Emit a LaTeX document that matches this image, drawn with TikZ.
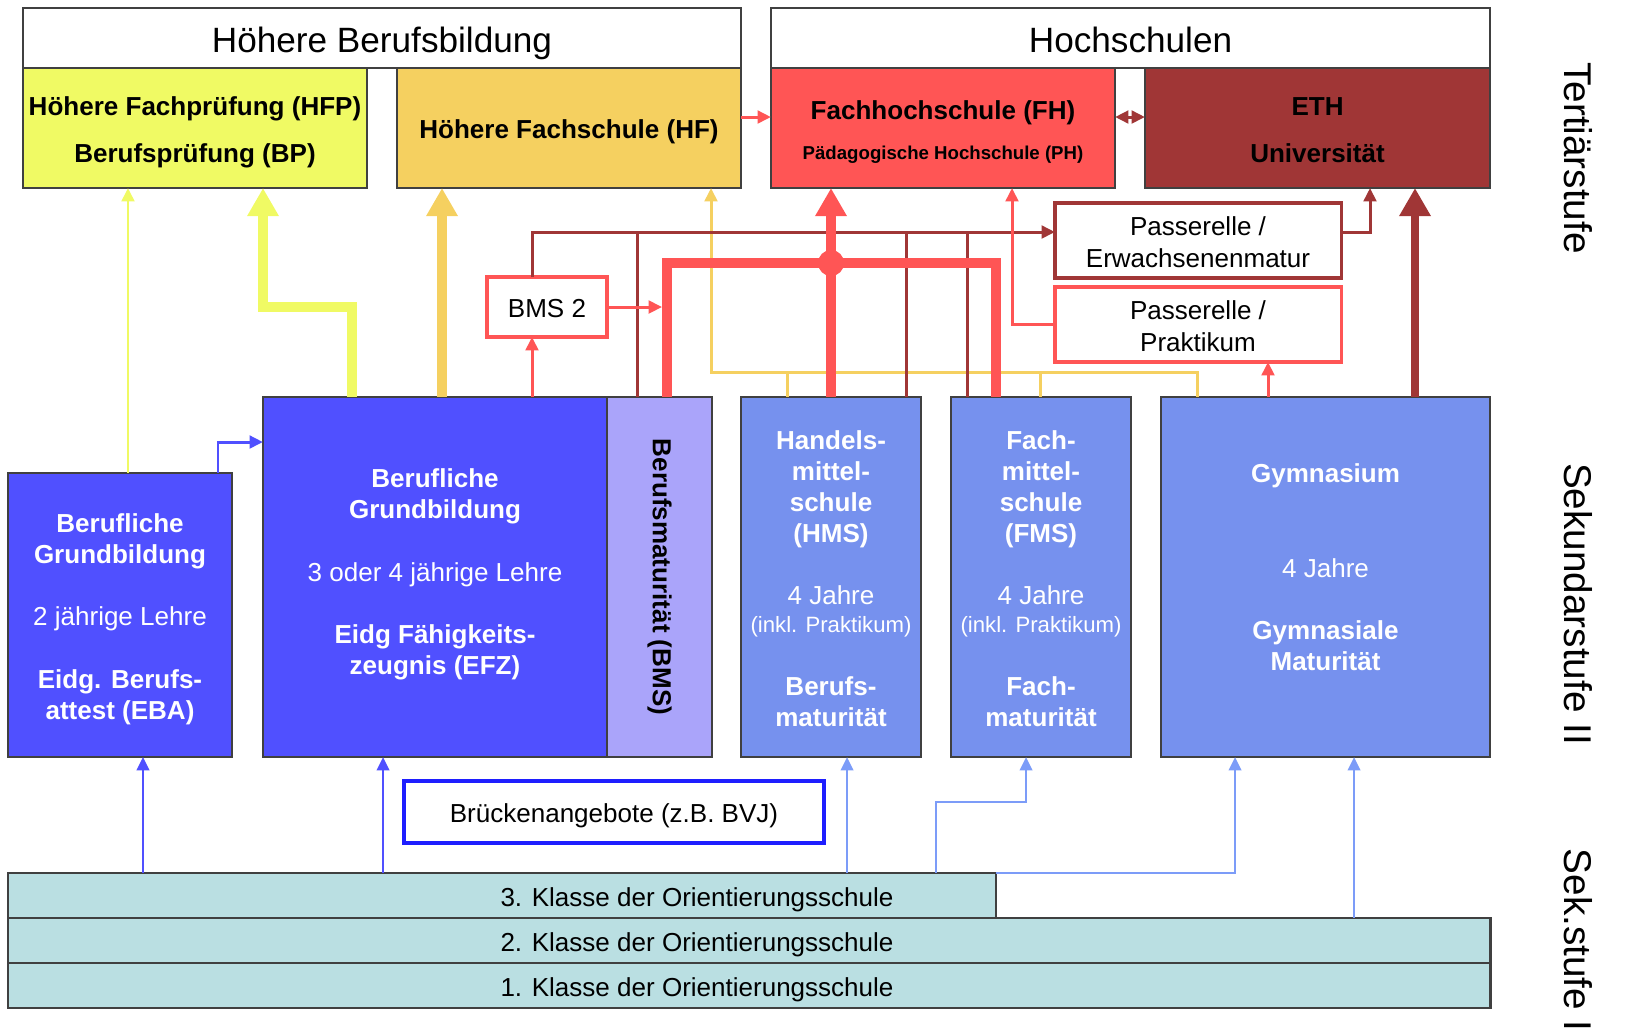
\documentclass[tikz,border=0pt]{standalone}
\usepackage{fontspec}
\setmainfont{Liberation Sans}
\usetikzlibrary{arrows.meta}
\tikzset{>={Triangle[length=3.8pt,width=3.6pt]}}
\definecolor{hfpyellow}{HTML}{F0FA64}
\definecolor{hfyellow}{HTML}{F5D060}
\definecolor{fhred}{HTML}{FF5555}
\definecolor{ethred}{HTML}{A03636}
\definecolor{efzblue}{HTML}{5050FF}
\definecolor{bmslilac}{HTML}{AAA4FA}
\definecolor{mittelblue}{HTML}{7691EE}
\definecolor{orient}{HTML}{BADFE2}
\definecolor{arrowblue}{HTML}{7C9CF8}
\definecolor{bridgeblue}{HTML}{1E1EFF}
\colorlet{boxframe}{black!75}
% line box of the text, as in the slide
\newcommand\lntop{\rule{0pt}{1.05em}}
\newcommand\lnbot{\rule[-0.212em]{0pt}{0.212em}}

\tikzset{
  box/.style={draw=boxframe, line width=0.6pt, inner sep=0pt, outer sep=0pt,
    align=center, font=\fontsize{7.4}{8.8}\selectfont\bfseries},
  headbox/.style={box, fill=white, minimum width=7.18cm, minimum height=0.6cm,
    font=\fontsize{10}{12}\selectfont},
  topbox/.style={box, minimum width=3.44cm, minimum height=1.2cm},
  passbox/.style={box, fill=white, line width=0.9pt, minimum width=2.86cm,
    minimum height=0.75cm, font=\fontsize{7.4}{9}\selectfont},
  secbox/.style={box, text=white, minimum height=3.6cm},
  klasse/.style={box, fill=orient, minimum height=0.45cm},
  plain/.style={inner sep=0pt, font=\fontsize{7.4}{8.8}\selectfont},
  stufe/.style={inner sep=0pt, rotate=-90, font=\fontsize{11}{13}\selectfont},
  thinline/.style={line width=0.85pt},
  fatline/.style={line width=2.6pt},
  bigtip/.style={-{Triangle[length=8pt,width=8.5pt]}},
}

\begin{document}
\begin{tikzpicture}[x=0.01cm, y=-0.01cm]
  \useasboundingbox (0,0) rectangle (1625,1032);
  % tertiary level
  \node[headbox] (hbb) at (382,38) {\lntop Höhere Berufsbildung\lnbot};
  \node[headbox, minimum width=7.19cm] (hs) at (1130.5,38) {\lntop Hochschulen\lnbot};
  \node[topbox, fill=hfpyellow] (hfp) at (195,128)
    {\lntop Höhere Fachprüfung (HFP)\\[4.6pt]Berufsprüfung (BP)\lnbot};
  \node[topbox, fill=hfyellow] (hf) at (569,128) {\lntop Höhere Fachschule (HF)\lnbot};
  \node[topbox, fill=fhred] (fh) at (943,128)
    {\lntop Fachhochschule (FH)\\[2.6pt]{\fontsize{5.3}{6}\selectfont Pädagogische Hochschule (PH)\lnbot}};
  \node[topbox, fill=ethred, minimum width=3.45cm] (eth) at (1317.5,128)
    {\lntop ETH\\[4.6pt]Universität\lnbot};
  \node[passbox, draw=ethred] (perw) at (1198,240.5) {\lntop Passerelle /\\Erwachsenenmatur\lnbot};
  \node[passbox, draw=fhred] (pprak) at (1198,324.5) {\lntop Passerelle /\\Praktikum\lnbot};
  \node[passbox, draw=fhred, minimum width=1.2cm, minimum height=0.6cm] (bms2) at (547,307)
    {\lntop BMS 2\lnbot};
  \coordinate (bmsjoin) at (662,307);

  % secondary level II
  \node[secbox, fill=efzblue, minimum width=2.24cm, minimum height=2.84cm] (eba) at (120,615)
    {\lntop Berufliche\\Grundbildung\\[9pt]{\mdseries 2 jährige Lehre}\\[9pt]Eidg. Berufs-\\attest (EBA)\lnbot};
  \node[secbox, fill=efzblue, minimum width=3.44cm] (efz) at (435,577)
    {\lntop Berufliche\\Grundbildung\\[9pt]{\mdseries 3 oder 4 jährige Lehre}\\[9pt]Eidg Fähigkeits-\\zeugnis (EFZ)\\[-3.4pt]\mbox{}};
  \node[secbox, fill=bmslilac, minimum width=1.05cm] (bms) at (659.5,577) {};
  \node[inner sep=0pt, rotate=-90, font=\fontsize{7.4}{8.8}\selectfont\bfseries] (bmstext) at (bms)
    {Berufsmaturität (BMS)};
  \node[secbox, fill=mittelblue, minimum width=1.8cm] (hms) at (831,577)
    {\lntop Handels-\\mittel-\\schule\\(HMS)\\[9pt]{\mdseries 4 Jahre}\\[-0.8pt]{\mdseries\fontsize{6.3}{7}\selectfont (inkl. Praktikum)}\\[9pt]Berufs-\\maturität\lnbot};
  \node[secbox, fill=mittelblue, minimum width=1.8cm] (fms) at (1041,577)
    {\lntop Fach-\\mittel-\\schule\\(FMS)\\[9pt]{\mdseries 4 Jahre}\\[-0.8pt]{\mdseries\fontsize{6.3}{7}\selectfont (inkl. Praktikum)}\\[9pt]Fach-\\maturität\lnbot};
  \node[secbox, fill=mittelblue, minimum width=3.29cm] (gym) at (1325.5,577)
    {\lntop Gymnasium\\[18pt]{\mdseries 4 Jahre}\\[9pt]Gymnasiale\\Maturität\\[-0.9pt]\mbox{}};
  \node[box, draw=bridgeblue, line width=1pt, fill=white, minimum width=4.2cm,
    minimum height=0.62cm, font=\fontsize{7.4}{8.8}\selectfont] (bridge) at (614,812)
    {\lntop Brückenangebote (z.B. BVJ)\lnbot};

  % secondary level I
  \node[klasse, minimum width=9.88cm] (kl3) at (502,895.5) {};
  \node[klasse, minimum width=14.82cm] (kl2) at (749,940.5) {};
  \node[klasse, minimum width=14.82cm] (kl1) at (749,985.5) {};
  \node[plain] (kl3text) at (697,895.5) {\lntop 3. Klasse der Orientierungsschule\lnbot};
  \node[plain] (kl2text) at (697,940.5) {\lntop 2. Klasse der Orientierungsschule\lnbot};
  \node[plain] (kl1text) at (697,985.5) {\lntop 1. Klasse der Orientierungsschule\lnbot};

  % level labels
  \node[stufe] (tert) at (1578,158) {Tertiärstufe};
  \node[stufe] (sek2) at (1578,604) {Sekundarstufe II};
  \node[stufe, anchor=west] (sek1) at (1578,848) {Sek.stufe I};

  % paths into tertiary level
  \draw[hfpyellow, thinline, ->] (eba.north -| 128,0) -- (hfp.south -| 128,0);
  \draw[hfpyellow, fatline, bigtip] (efz.north -| 352,0) |- (263,307) -- (hfp.south -| 263,0);
  \draw[hfyellow, fatline, bigtip] (efz.north -| 442,0) -- (hf.south -| 442,0);
  \draw[hfyellow, thinline, ->] (gym.north -| 1197,0) |- (711,372) -- (hf.south -| 711,0);
  \draw[hfyellow, thinline] (hms.north -| 787,0) -- (787,372) (fms.north -| 1040,0) -- (1040,372);
  \draw[ethred, thinline, ->] (bms2.north -| 532,0) |- (perw.west |- 0,232);
  \draw[ethred, thinline] (bms.north -| 637,0) -- (637,232) (hms.north -| 906,0) -- (906,232)
    (fms.north -| 967,0) -- (967,232);
  \draw[ethred, thinline, ->] (perw.east |- 0,232) -| (eth.south -| 1370,0);
  \draw[ethred, line width=2.3pt, bigtip] (gym.north -| 1415,0) -- (eth.south -| 1415,0);
  \draw[ethred, thinline, <->] (fh.east |- 0,117) -- (eth.west |- 0,117);
  \draw[fhred, thinline, ->] (hf.east |- 0,117) -- (fh.west |- 0,117);
  \draw[fhred, thinline, ->] (efz.north -| 532,0) -- (bms2.south -| 532,0);
  \draw[fhred, thinline, ->] (pprak.west) -| (fh.south -| 1012,0);
  \draw[fhred, thinline, ->] (gym.north -| 1268,0) -- (pprak.south -| 1268,0);
  \draw[fhred, thinline, ->] (bms2.east) -- (bmsjoin);
  \draw[fhred, fatline] (bms.north -| 667,0) -- (667,263) -- (996,263) -- (fms.north -| 996,0);
  \draw[fhred, fatline, bigtip] (hms.north) -- (hms.north |- fh.south);
  \fill[fhred] (831,263) circle (0.13cm);

  % paths into secondary level II
  \draw[efzblue, thinline, ->] (eba.north -| 218,0) |- (efz.west |- 0,442);
  \draw[efzblue, line width=0.6pt, ->] (kl3.north -| 143,0) -- (eba.south -| 143,0);
  \draw[efzblue, line width=0.6pt, ->] (kl3.north -| 383,0) -- (efz.south -| 383,0);
  \draw[arrowblue, line width=0.6pt, ->] (kl3.north -| 847,0) -- (hms.south -| 847,0);
  \draw[arrowblue, line width=0.6pt, ->] (kl3.north -| 936,0) |- (1026,802) -- (fms.south -| 1026,0);
  \draw[arrowblue, line width=0.6pt, ->] (kl3.north east) -| (gym.south -| 1235,0);
  \draw[arrowblue, line width=0.6pt, ->] (kl2.north -| 1354,0) -- (gym.south -| 1354,0);
\end{tikzpicture}
\end{document}
